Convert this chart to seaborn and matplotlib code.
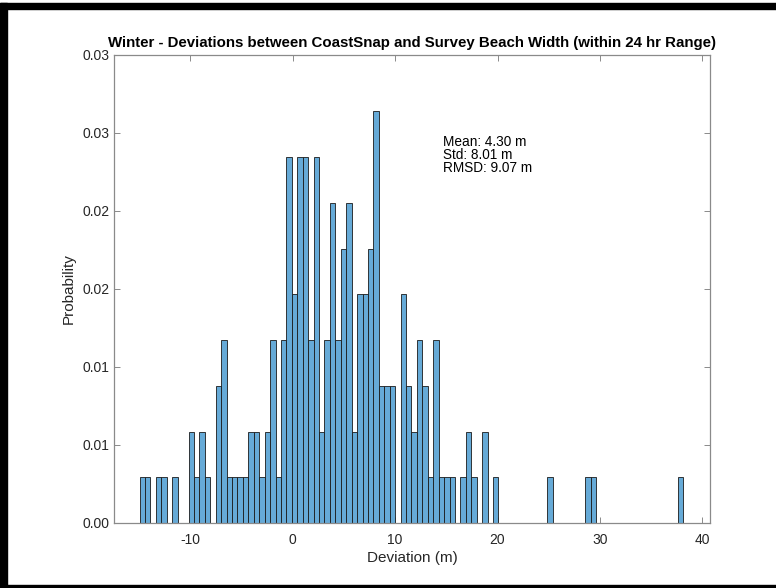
import numpy as np
import pandas as pd
import matplotlib
matplotlib.use("Agg")
import matplotlib.pyplot as plt
from matplotlib.patches import Rectangle
import seaborn as sns

# Histogram definition: 100 equal-width bins spanning the deviation range
bin_lo, bin_hi, n_bins = -14.95, 38.15, 100

# Number of observations in each bin (bin index -> count); empty bins omitted
bin_index = [0, 1, 3, 4, 6, 9, 10, 11, 12, 14, 15, 16, 17, 18, 19, 20, 21, 22,
             23, 24, 25, 26, 27, 28, 29, 30, 31, 32, 33, 34, 35, 36, 37, 38, 39,
             40, 41, 42, 43, 44, 45, 46, 48, 49, 50, 51, 52, 53, 54, 55, 56, 57,
             59, 60, 61, 63, 65, 75, 82, 83, 99]
bin_count = [1, 1, 1, 1, 1, 2, 1, 2, 1, 3, 4, 1, 1, 1, 1, 2, 2, 1,
             2, 4, 1, 4, 8, 5, 8, 8, 4, 8, 2, 4, 7, 4, 6, 7, 2,
             5, 5, 6, 9, 3, 3, 3, 5, 3, 2, 4, 3, 1, 4, 1, 1, 1,
             1, 2, 1, 2, 1, 1, 1, 1, 1]
# Total used for the probability normalisation
n_total = 341

# Summary statistics shown on the chart
stat_lines = ["Mean: 4.30 m", "Std: 8.01 m", "RMSD: 9.07 m"]

x_ticks = [-10, 0, 10, 20, 30, 40]
y_ticks = [0.0, 0.005, 0.010, 0.015, 0.020, 0.025, 0.030]
y_tick_labels = ["0.00", "0.01", "0.01", "0.02", "0.02", "0.03", "0.03"]

title = "Winter - Deviations between CoastSnap and Survey Beach Width (within 24 hr Range)"

# ---------------------------------------------------------------------------
bin_width = (bin_hi - bin_lo) / n_bins
centers = bin_lo + (np.array(bin_index) + 0.5) * bin_width
df = pd.DataFrame({
    "deviation": centers,
    "probability": np.array(bin_count) / n_total,
})

sns.set_style("ticks")
plt.rcParams["font.family"] = ["Liberation Sans", "DejaVu Sans"]

fig = plt.figure(figsize=(7.76, 5.88), dpi=100)
ax = fig.add_axes([114 / 776, 1 - 523 / 588, (710 - 114) / 776, (523 - 55) / 588])

bar_face = (0.40, 0.668, 0.845)
sns.histplot(data=df, x="deviation", weights="probability",
             bins=n_bins, binrange=(bin_lo, bin_hi),
             stat="count", color=bar_face, alpha=1.0, edgecolor="#1a1a1a",
             linewidth=0.6, ax=ax)

ax.set_xlim(-17.45, 40.75)
ax.set_ylim(0, 0.03)
ax.set_xticks(x_ticks)
ax.set_xticklabels([str(t) for t in x_ticks])
ax.set_yticks(y_ticks)
ax.set_yticklabels(y_tick_labels)

axis_grey = "#8a8a8a"
text_grey = "#262626"
for side in ["left", "right", "top", "bottom"]:
    ax.spines[side].set_visible(True)
    ax.spines[side].set_color(axis_grey)
    ax.spines[side].set_linewidth(0.9)
ax.tick_params(axis="both", which="both", direction="in", length=4.5, width=0.7,
               color=axis_grey, labelcolor=text_grey, labelsize=10,
               top=True, right=True)
ax.tick_params(axis="x", pad=7)
ax.tick_params(axis="y", pad=3)

ax.set_xlabel("Deviation (m)", fontsize=11, color=text_grey, labelpad=3)
ax.set_ylabel("Probability", fontsize=11, color=text_grey, labelpad=5)
ax.set_title(title, fontsize=10.8, fontweight="bold", color="black", pad=6)

ax.text(0.552, 0.829, "\n".join(stat_lines), transform=ax.transAxes,
        ha="left", va="top", fontsize=9.8, color="black", linespacing=0.9)

# Black frame around the figure
frame_kw = dict(transform=fig.transFigure, color="black", zorder=10, clip_on=False)
fig.patches.append(Rectangle((0, 1 - 9 / 588), 1, 6 / 588, **frame_kw))
fig.patches.append(Rectangle((0, 0), 7 / 776, 1 - 3 / 588, **frame_kw))
fig.patches.append(Rectangle((0, 0), 1, 3 / 588, **frame_kw))

fig.savefig("out.png", dpi=100)
